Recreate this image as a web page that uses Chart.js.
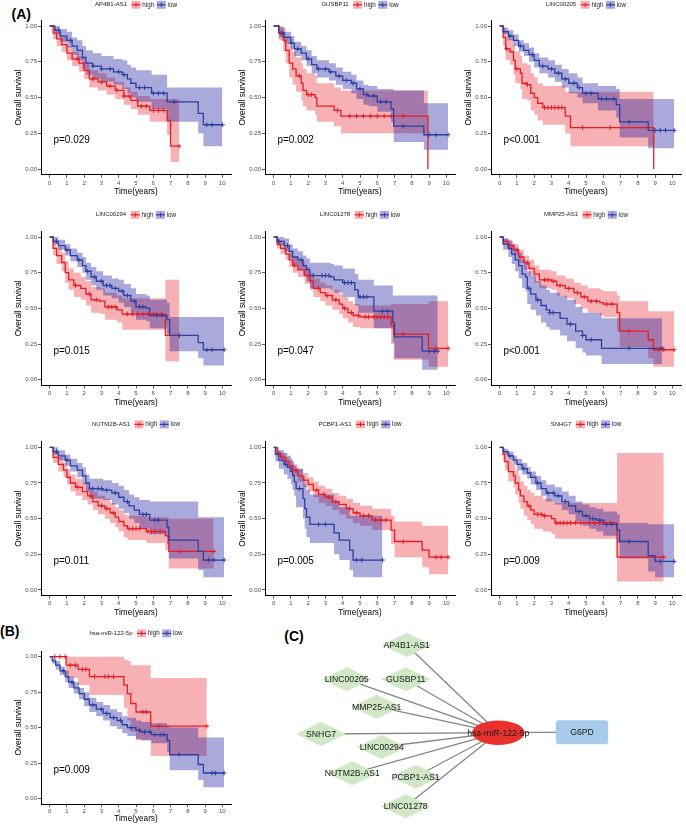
<!DOCTYPE html>
<html><head><meta charset="utf-8">
<script src="https://cdn.jsdelivr.net/npm/chart.js@4.4.1/dist/chart.umd.min.js"></script>
<style>
html,body{margin:0;padding:0;background:#fff;}
body{width:686px;height:825px;overflow:hidden;position:relative;font-family:"Liberation Sans",Arial,sans-serif;}
canvas{position:absolute;}
.lab{position:absolute;font:bold 14px/16px "Liberation Sans",Arial,sans-serif;color:#000;}
</style></head><body>
<div class="lab" style="left:11.5px;top:6.3px">(A)</div>
<div class="lab" style="left:0px;top:622.8px">(B)</div>
<div class="lab" style="left:284.3px;top:628.3px">(C)</div>
<script>
// ---------- labels ----------
const genes = ['AP4B1-AS1','GUSBP11','LINC00205','LINC00294','LINC01278','MMP25-AS1','NUTM2B-AS1','PCBP1-AS1','SNHG7','hsa-miR-122-5p'];
const pValues = ['p=0.029','p=0.002','p<0.001','p=0.015','p=0.047','p<0.001','p=0.011','p=0.005','p=0.009','p=0.009'];
const groupLabels = ['high','low'];
const xTickValues = [0,1,2,3,4,5,6,7,8,9,10];
const xTickLabels = ['0','1','2','3','4','5','6','7','8','9','10'];
const yTickValues = [0,0.25,0.5,0.75,1];
const yTickLabels = ['0.00','0.25','0.50','0.75','1.00'];
const xTitle = 'Time(years)';
const yTitle = 'Overall survival';

// ---------- KM curves: [time, survival, lower CI, upper CI] ----------
const kmAP4B1High = [[0,1,1,1],[0.2,0.95,0.91,0.99],[0.4,0.91,0.86,0.96],[0.7,0.87,0.82,0.92],[1.0,0.81,0.76,0.86],[1.3,0.77,0.72,0.82],[1.7,0.74,0.68,0.79],[2.0,0.69,0.63,0.75],[2.3,0.63,0.57,0.69],[2.8,0.61,0.55,0.67],[3.3,0.58,0.52,0.64],[3.8,0.55,0.49,0.61],[4.3,0.51,0.45,0.57],[4.7,0.48,0.42,0.54],[5.1,0.44,0.38,0.51],[5.8,0.41,0.33,0.49],[6.8,0.34,0.24,0.49],[7.0,0.16,0.05,0.49],[7.5,0.16,0.05,0.49]];
const kmAP4B1Low = [[0,1,1,1],[0.3,0.97,0.94,1.0],[0.6,0.93,0.89,0.98],[1.0,0.90,0.85,0.96],[1.3,0.86,0.80,0.92],[1.6,0.83,0.76,0.90],[1.9,0.78,0.70,0.86],[2.1,0.74,0.66,0.83],[2.5,0.72,0.63,0.81],[3.0,0.70,0.61,0.79],[3.7,0.68,0.59,0.77],[4.2,0.66,0.56,0.76],[4.5,0.63,0.53,0.73],[4.7,0.60,0.50,0.71],[5.0,0.57,0.47,0.69],[5.9,0.53,0.42,0.66],[6.8,0.47,0.33,0.57],[8.6,0.39,0.25,0.57],[8.9,0.31,0.16,0.57],[10.0,0.31,0.16,0.57]];
const censAP4B1High = [1.6,2.5,3.0,3.5,3.9,4.3,4.6,5.3,5.6,6.0,6.3,6.6,7.5];
const censAP4B1Low = [0.5,1.2,2.5,3.0,3.5,4.0,4.3,5.2,5.5,6.0,6.3,6.6,7.2,9.1,9.4,10.0];

const kmGUSBP11High = [[0,1,1,1],[0.3,0.95,0.90,1.0],[0.55,0.90,0.82,0.99],[0.7,0.83,0.74,0.93],[0.9,0.74,0.64,0.86],[1.1,0.70,0.59,0.82],[1.3,0.65,0.54,0.78],[1.6,0.60,0.48,0.74],[1.7,0.55,0.44,0.70],[1.9,0.52,0.41,0.67],[2.4,0.50,0.38,0.65],[2.5,0.44,0.33,0.60],[3.5,0.41,0.30,0.57],[3.9,0.37,0.25,0.55],[8.93,0,0.25,0.55]];
const kmGUSBP11Low = [[0,1,1,1],[0.3,0.95,0.92,0.99],[0.6,0.92,0.88,0.96],[1.0,0.88,0.84,0.93],[1.2,0.84,0.79,0.89],[1.6,0.81,0.76,0.86],[1.9,0.77,0.72,0.83],[2.2,0.73,0.67,0.79],[2.5,0.70,0.64,0.76],[3.2,0.68,0.62,0.74],[3.6,0.65,0.59,0.71],[4.0,0.62,0.56,0.68],[4.5,0.60,0.53,0.66],[4.8,0.56,0.49,0.62],[5.2,0.52,0.45,0.59],[5.5,0.51,0.44,0.58],[6.0,0.47,0.40,0.56],[6.8,0.42,0.33,0.56],[6.95,0.30,0.19,0.55],[8.7,0.24,0.135,0.46],[10.1,0.24,0.135,0.46]];
const censGUSBP11High = [0.4,1.5,2.0,2.2,3.7,4.4,4.8,5.2,5.6,6.0,6.4,6.8,7.5];
const censGUSBP11Low = [0.5,1.0,1.4,2.0,2.6,3.0,3.3,3.8,4.2,4.6,5.0,5.4,5.8,6.2,6.5,7.5,9.0,9.4,10.1];

const kmLINC00205High = [[0,1,1,1],[0.2,0.92,0.86,0.99],[0.35,0.84,0.76,0.93],[0.6,0.82,0.73,0.91],[0.8,0.76,0.66,0.87],[0.9,0.70,0.60,0.82],[1.2,0.67,0.56,0.79],[1.3,0.60,0.49,0.74],[1.6,0.59,0.48,0.73],[1.8,0.53,0.41,0.67],[2.0,0.50,0.38,0.64],[2.2,0.46,0.34,0.60],[2.5,0.43,0.31,0.58],[3.8,0.37,0.25,0.54],[4.1,0.29,0.16,0.54],[8.92,0,0.16,0.54]];
const kmLINC00205Low = [[0,1,1,1],[0.2,0.96,0.94,0.99],[0.5,0.93,0.90,0.97],[0.8,0.90,0.86,0.94],[1.1,0.86,0.82,0.90],[1.4,0.83,0.79,0.88],[1.7,0.80,0.75,0.85],[2.0,0.76,0.71,0.81],[2.3,0.72,0.67,0.78],[2.8,0.70,0.64,0.76],[3.2,0.67,0.61,0.73],[3.6,0.63,0.57,0.70],[4.0,0.60,0.53,0.67],[4.5,0.57,0.50,0.64],[4.8,0.53,0.46,0.60],[5.7,0.49,0.41,0.58],[6.75,0.45,0.36,0.56],[6.95,0.33,0.22,0.49],[8.6,0.27,0.145,0.49],[10.1,0.27,0.145,0.49]];
const censLINC00205High = [0.4,1.0,1.6,2.6,2.8,3.0,3.2,3.4,3.6,4.8,6.4];
const censLINC00205Low = [0.6,1.2,1.9,2.5,3.0,3.4,3.8,4.3,4.6,5.0,5.3,5.9,6.2,6.6,7.5,9.0,9.3,9.6,10.1];

const kmLINC00294High = [[0,1,1,1],[0.2,0.92,0.87,0.97],[0.4,0.87,0.81,0.93],[0.7,0.82,0.76,0.89],[0.9,0.75,0.68,0.83],[1.1,0.70,0.63,0.78],[1.4,0.66,0.58,0.75],[1.8,0.64,0.56,0.72],[2.1,0.60,0.52,0.69],[2.4,0.56,0.47,0.65],[2.9,0.55,0.46,0.64],[3.2,0.51,0.42,0.61],[3.9,0.49,0.40,0.59],[4.2,0.46,0.35,0.57],[6.7,0.31,0.13,0.70],[7.5,0.31,0.13,0.70]];
const kmLINC00294Low = [[0,1,1,1],[0.2,0.97,0.95,1.0],[0.5,0.94,0.91,0.98],[0.9,0.91,0.87,0.95],[1.2,0.87,0.83,0.92],[1.6,0.84,0.79,0.89],[1.9,0.80,0.75,0.86],[2.1,0.76,0.70,0.82],[2.4,0.72,0.66,0.79],[2.7,0.69,0.63,0.76],[3.1,0.66,0.59,0.73],[3.6,0.64,0.57,0.71],[4.0,0.62,0.54,0.70],[4.3,0.59,0.51,0.67],[4.7,0.55,0.47,0.64],[5.0,0.51,0.42,0.60],[5.6,0.50,0.41,0.59],[5.8,0.45,0.36,0.56],[6.8,0.42,0.32,0.54],[6.95,0.31,0.20,0.44],[8.6,0.26,0.15,0.44],[8.9,0.21,0.10,0.44],[10.1,0.21,0.10,0.44]];
const censLINC00294High = [1.5,2.3,2.7,3.4,3.6,3.8,4.5,4.8,5.1,5.4,5.7,6.0,6.2,6.5,7.5];
const censLINC00294Low = [0.4,1.0,1.7,2.2,2.6,3.0,3.3,3.5,3.8,4.2,4.5,4.9,5.2,5.4,6.2,6.5,7.5,9.1,9.4,10.1];

const kmLINC01278High = [[0,1,1,1],[0.2,0.95,0.92,0.98],[0.4,0.92,0.88,0.96],[0.7,0.88,0.84,0.92],[0.9,0.84,0.79,0.89],[1.1,0.80,0.75,0.86],[1.4,0.77,0.72,0.83],[1.8,0.73,0.67,0.79],[2.1,0.69,0.63,0.75],[2.3,0.64,0.58,0.71],[2.7,0.61,0.55,0.68],[3.0,0.59,0.52,0.66],[3.4,0.56,0.49,0.63],[3.8,0.53,0.46,0.60],[4.0,0.50,0.43,0.58],[4.3,0.47,0.40,0.55],[4.6,0.45,0.37,0.53],[5.0,0.44,0.36,0.52],[6.8,0.38,0.25,0.53],[6.95,0.32,0.14,0.53],[8.97,0.22,0.09,0.55],[10.1,0.22,0.09,0.55]];
const kmLINC01278Low = [[0,1,1,1],[0.2,0.97,0.94,1.0],[0.6,0.94,0.90,0.99],[0.9,0.90,0.85,0.95],[1.1,0.86,0.80,0.92],[1.4,0.84,0.77,0.90],[1.7,0.80,0.73,0.87],[1.9,0.77,0.69,0.85],[2.1,0.73,0.64,0.82],[3.3,0.72,0.63,0.81],[3.5,0.70,0.61,0.80],[4.0,0.68,0.58,0.78],[4.7,0.63,0.52,0.74],[4.9,0.58,0.47,0.70],[5.8,0.48,0.36,0.66],[6.9,0.40,0.26,0.59],[7.0,0.30,0.15,0.59],[8.6,0.20,0.07,0.59],[9.5,0.20,0.07,0.59]];
const censLINC01278High = [1.2,2.0,2.6,3.1,3.6,4.1,4.5,4.9,5.3,5.5,5.8,6.0,6.2,6.4,6.6,7.5,9.4,10.1];
const censLINC01278Low = [0.3,0.8,1.6,2.3,2.8,3.0,3.2,4.1,4.3,4.5,5.0,5.2,5.4,6.3,6.6,9.0,9.3,9.5];

const kmMMP25High = [[0,1,1,1],[0.2,0.97,0.95,0.99],[0.5,0.94,0.91,0.97],[0.8,0.91,0.87,0.95],[1.1,0.86,0.82,0.91],[1.4,0.82,0.77,0.87],[1.7,0.78,0.73,0.84],[2.0,0.74,0.68,0.80],[2.3,0.70,0.64,0.77],[3.0,0.69,0.63,0.76],[3.3,0.66,0.59,0.73],[3.8,0.64,0.57,0.71],[4.3,0.61,0.53,0.68],[4.7,0.58,0.50,0.66],[5.1,0.55,0.47,0.64],[5.8,0.54,0.45,0.63],[6.0,0.53,0.44,0.62],[6.8,0.47,0.34,0.59],[6.95,0.34,0.23,0.55],[8.6,0.28,0.15,0.48],[8.9,0.21,0.09,0.48],[10.1,0.21,0.09,0.48]];
const kmMMP25Low = [[0,1,1,1],[0.2,0.95,0.91,0.99],[0.5,0.92,0.86,0.98],[0.7,0.88,0.81,0.95],[0.9,0.84,0.76,0.92],[1.1,0.80,0.71,0.89],[1.3,0.74,0.64,0.84],[1.5,0.72,0.62,0.83],[1.6,0.64,0.53,0.76],[1.8,0.60,0.49,0.73],[2.1,0.56,0.45,0.69],[2.4,0.52,0.40,0.66],[2.7,0.49,0.37,0.63],[2.9,0.47,0.35,0.61],[3.5,0.43,0.31,0.59],[3.9,0.39,0.27,0.56],[4.4,0.34,0.22,0.51],[4.8,0.31,0.19,0.47],[5.0,0.28,0.17,0.47],[5.9,0.22,0.11,0.43],[9.4,0.22,0.11,0.43]];
const censMMP25High = [0.6,1.0,1.6,2.6,2.8,3.1,3.5,4.0,4.5,4.9,5.3,5.6,6.2,6.5,7.5,9.2,9.5,10.1];
const censMMP25Low = [1.7,2.2,2.9,3.1,4.1,4.8,5.3,7.5,9.4];

const kmNUTM2BHigh = [[0,1,1,1],[0.2,0.93,0.89,0.97],[0.5,0.88,0.83,0.93],[0.8,0.84,0.79,0.89],[1.0,0.79,0.74,0.85],[1.2,0.75,0.69,0.81],[1.5,0.72,0.66,0.78],[1.9,0.69,0.63,0.75],[2.2,0.66,0.60,0.72],[2.5,0.62,0.56,0.69],[2.8,0.59,0.53,0.66],[3.2,0.57,0.50,0.64],[3.5,0.54,0.47,0.61],[3.8,0.51,0.44,0.58],[4.0,0.48,0.41,0.56],[4.3,0.45,0.37,0.53],[4.5,0.43,0.35,0.52],[5.6,0.41,0.33,0.51],[6.7,0.38,0.28,0.51],[6.9,0.27,0.15,0.50],[9.5,0.27,0.15,0.50]];
const kmNUTM2BLow = [[0,1,1,1],[0.2,0.97,0.95,1.0],[0.5,0.94,0.91,0.98],[0.9,0.91,0.87,0.95],[1.2,0.87,0.83,0.92],[1.6,0.84,0.79,0.89],[1.9,0.80,0.74,0.86],[2.1,0.75,0.69,0.81],[2.3,0.71,0.64,0.78],[3.1,0.70,0.63,0.77],[3.6,0.68,0.60,0.75],[4.0,0.65,0.57,0.73],[4.3,0.62,0.54,0.70],[4.6,0.59,0.50,0.67],[4.9,0.56,0.47,0.65],[5.2,0.53,0.43,0.63],[5.8,0.49,0.39,0.62],[6.8,0.44,0.32,0.62],[6.9,0.35,0.22,0.62],[8.6,0.27,0.14,0.51],[8.9,0.21,0.09,0.51],[10.1,0.21,0.09,0.51]];
const censNUTM2BHigh = [1.6,2.4,3.0,3.3,3.7,4.6,4.8,5.0,5.2,5.7,5.9,6.1,6.4,7.5,9.5];
const censNUTM2BLow = [0.4,1.0,2.5,2.8,3.0,3.3,3.8,4.5,5.4,5.6,6.1,6.3,9.2,9.5,10.1];

const kmPCBP1High = [[0,1,1,1],[0.2,0.96,0.94,0.98],[0.4,0.93,0.90,0.96],[0.7,0.90,0.87,0.93],[0.9,0.87,0.83,0.91],[1.1,0.84,0.80,0.88],[1.4,0.80,0.76,0.85],[1.7,0.77,0.72,0.82],[2.0,0.74,0.69,0.79],[2.3,0.70,0.65,0.76],[2.6,0.67,0.61,0.73],[3.0,0.65,0.59,0.71],[3.4,0.62,0.56,0.68],[3.8,0.60,0.53,0.66],[4.2,0.57,0.50,0.64],[4.6,0.54,0.47,0.61],[5.0,0.52,0.45,0.59],[5.7,0.49,0.42,0.57],[6.8,0.42,0.32,0.52],[7.0,0.34,0.23,0.48],[8.6,0.28,0.16,0.45],[9.0,0.23,0.11,0.45],[10.1,0.23,0.11,0.45]];
const kmPCBP1Low = [[0,1,1,1],[0.1,0.95,0.90,1.0],[0.3,0.91,0.85,0.98],[0.6,0.88,0.81,0.96],[0.8,0.86,0.78,0.94],[1.0,0.83,0.74,0.92],[1.1,0.80,0.70,0.90],[1.2,0.76,0.66,0.87],[1.3,0.71,0.58,0.85],[1.7,0.64,0.50,0.80],[1.8,0.57,0.43,0.74],[1.9,0.51,0.37,0.70],[2.1,0.46,0.33,0.67],[3.5,0.40,0.25,0.62],[3.8,0.35,0.21,0.58],[4.4,0.28,0.14,0.52],[4.6,0.21,0.09,0.52],[6.3,0.21,0.09,0.52]];
const censPCBP1High = [0.5,1.3,2.5,2.9,3.2,3.6,4.4,4.8,5.2,5.5,5.9,6.2,6.5,7.5,9.4,9.7,10.1];
const censPCBP1Low = [0.7,1.5,2.6,3.0,4.8,5.1,6.3];

const kmSNHG7High = [[0,1,1,1],[0.2,0.95,0.90,1.0],[0.3,0.90,0.84,0.97],[0.5,0.83,0.76,0.91],[0.8,0.80,0.72,0.88],[0.9,0.75,0.67,0.84],[1.1,0.70,0.61,0.80],[1.2,0.66,0.57,0.76],[1.4,0.62,0.52,0.73],[1.6,0.59,0.49,0.70],[1.8,0.56,0.46,0.68],[2.0,0.53,0.43,0.66],[2.5,0.52,0.41,0.64],[3.0,0.50,0.39,0.62],[3.2,0.47,0.36,0.61],[6.8,0.23,0.06,0.96],[9.5,0.23,0.06,0.96]];
const kmSNHG7Low = [[0,1,1,1],[0.2,0.97,0.95,0.99],[0.5,0.94,0.91,0.97],[0.8,0.91,0.88,0.94],[1.0,0.88,0.84,0.92],[1.3,0.85,0.81,0.89],[1.6,0.82,0.78,0.86],[1.8,0.79,0.74,0.83],[2.1,0.75,0.70,0.80],[2.4,0.71,0.66,0.77],[2.7,0.68,0.62,0.74],[3.2,0.66,0.60,0.72],[3.6,0.62,0.56,0.69],[4.0,0.59,0.53,0.66],[4.4,0.55,0.48,0.62],[4.8,0.52,0.45,0.60],[5.2,0.50,0.43,0.58],[5.6,0.49,0.41,0.57],[6.0,0.46,0.38,0.55],[6.8,0.42,0.33,0.53],[6.95,0.34,0.22,0.47],[8.6,0.24,0.13,0.46],[9.0,0.20,0.09,0.46],[10.1,0.20,0.09,0.46]];
const censSNHG7High = [1.7,2.2,2.4,2.6,3.3,3.5,3.7,3.9,4.1,4.4,4.7,5.2,5.5,5.8,6.1,6.4,9.5];
const censSNHG7Low = [0.6,1.4,2.2,2.8,3.1,3.4,3.8,4.6,5.0,5.4,5.8,6.2,6.5,7.5,9.3,10.1];

const kmMIR122High = [[0,1,1,1],[0.95,0.94,0.85,1.0],[1.65,0.91,0.80,1.0],[2.3,0.86,0.73,1.0],[4.3,0.80,0.64,0.98],[4.5,0.74,0.55,0.97],[4.7,0.67,0.47,0.94],[5.0,0.61,0.41,0.94],[5.85,0.51,0.30,0.85],[9.1,0.51,0.30,0.85]];
const kmMIR122Low = [[0,1,1,1],[0.15,0.97,0.95,0.99],[0.35,0.94,0.91,0.97],[0.6,0.90,0.87,0.93],[0.9,0.86,0.82,0.90],[1.1,0.82,0.78,0.86],[1.4,0.78,0.74,0.82],[1.7,0.74,0.70,0.78],[2.0,0.70,0.65,0.75],[2.3,0.66,0.61,0.71],[2.7,0.63,0.58,0.68],[3.1,0.60,0.55,0.66],[3.5,0.57,0.51,0.63],[3.9,0.55,0.49,0.61],[4.2,0.52,0.46,0.58],[4.5,0.50,0.44,0.57],[5.0,0.48,0.42,0.55],[5.3,0.47,0.41,0.54],[5.9,0.45,0.39,0.53],[6.8,0.41,0.33,0.51],[6.95,0.31,0.20,0.50],[8.6,0.24,0.13,0.43],[8.9,0.18,0.08,0.43],[10.1,0.18,0.08,0.43]];
const censMIR122High = [0.3,0.6,0.9,1.2,1.5,1.9,2.1,2.6,3.2,3.4,3.7,5.4,5.6,6.3,9.1];
const censMIR122Low = [0.8,1.3,2.5,3.0,3.3,3.7,4.1,4.7,5.2,5.5,5.8,6.1,6.4,6.6,7.5,9.4,9.6,10.1];

// ---------- network ----------
const nodeNames = ['AP4B1-AS1','LINC00205','GUSBP11','MMP25-AS1','SNHG7','LINC00294','NUTM2B-AS1','PCBP1-AS1','LINC01278','hsa-miR-122-5p','G6PD'];
const nodeTypes = ['lncRNA','lncRNA','lncRNA','lncRNA','lncRNA','lncRNA','lncRNA','lncRNA','lncRNA','miRNA','mRNA'];
const nodeX = [176.7,116.7,175.7,146.7,91,151.7,122.3,185.7,175.7,268.3,352];
const nodeY = [45,79.3,79.3,106.7,134,147,173.3,176.7,206.3,132.7,132.2];
const edgeFrom = ['AP4B1-AS1','LINC00205','GUSBP11','MMP25-AS1','SNHG7','LINC00294','NUTM2B-AS1','PCBP1-AS1','LINC01278','hsa-miR-122-5p'];
const edgeTo = ['hsa-miR-122-5p','hsa-miR-122-5p','hsa-miR-122-5p','hsa-miR-122-5p','hsa-miR-122-5p','hsa-miR-122-5p','hsa-miR-122-5p','hsa-miR-122-5p','hsa-miR-122-5p','G6PD'];

// ---------- build ----------
const curves = [
  [kmAP4B1High,kmAP4B1Low,censAP4B1High,censAP4B1Low],
  [kmGUSBP11High,kmGUSBP11Low,censGUSBP11High,censGUSBP11Low],
  [kmLINC00205High,kmLINC00205Low,censLINC00205High,censLINC00205Low],
  [kmLINC00294High,kmLINC00294Low,censLINC00294High,censLINC00294Low],
  [kmLINC01278High,kmLINC01278Low,censLINC01278High,censLINC01278Low],
  [kmMMP25High,kmMMP25Low,censMMP25High,censMMP25Low],
  [kmNUTM2BHigh,kmNUTM2BLow,censNUTM2BHigh,censNUTM2BLow],
  [kmPCBP1High,kmPCBP1Low,censPCBP1High,censPCBP1Low],
  [kmSNHG7High,kmSNHG7Low,censSNHG7High,censSNHG7Low],
  [kmMIR122High,kmMIR122Low,censMIR122High,censMIR122Low]
];

Chart.defaults.font.family = '"Liberation Sans", Arial, sans-serif';
const FONT = '"Liberation Sans", Arial, sans-serif';
const RED = '#E41E26', BLUE = '#2E3F9C';
const RED_BAND = 'rgba(232,30,38,0.35)', BLUE_BAND = 'rgba(30,30,160,0.38)';

function stepAt(km, t) {
  let v = km[0][1];
  for (const r of km) { if (r[0] <= t) v = r[1]; }
  return v;
}
function bandSets(km, color, order) {
  return [
    {data: km.map(r => ({x:r[0], y:r[3]})), stepped:true, borderWidth:0, borderColor:'rgba(0,0,0,0)', pointRadius:0, fill:false, order},
    {data: km.map(r => ({x:r[0], y:r[2]})), stepped:true, borderWidth:0, borderColor:'rgba(0,0,0,0)', pointRadius:0, fill:'-1', backgroundColor:color, order}
  ];
}
function lineSet(km, color, order) {
  return {data: km.map(r => ({x:r[0], y:r[1]})), stepped:true, borderColor:color, borderWidth:1.3, pointRadius:0, fill:false, order};
}
function censSet(km, cens, color, order) {
  return {data: cens.map(t => ({x:t, y:stepAt(km, t)})), showLine:false, pointStyle:'cross', pointRadius:2.4, pointBorderWidth:1, pointBorderColor:color, borderColor:color, pointBackgroundColor:color, fill:false, order};
}

const kmDecor = {
  id: 'kmDecor',
  afterDraw(chart, args, o) {
    const {ctx, chartArea, scales:{x, y}} = chart;
    ctx.save();
    ctx.fillStyle = '#000';
    ctx.font = '10px ' + FONT;
    ctx.textAlign = 'left'; ctx.textBaseline = 'middle';
    ctx.fillText(o.pText, x.getPixelForValue(o.px), y.getPixelForValue(o.py));
    // legend
    const cy = o.legendY;
    ctx.font = '6px ' + FONT;
    const wT = ctx.measureText(o.title).width;
    ctx.font = '6.3px ' + FONT;
    const wH = ctx.measureText(groupLabels[0]).width, wL = ctx.measureText(groupLabels[1]).width;
    const kw = 9, g1 = 4.5, g2 = 1.8, g3 = 2.5;
    const total = wT + g1 + kw + g2 + wH + g3 + kw + g2 + wL;
    let cx = (chartArea.left + chartArea.right) / 2 - total / 2;
    ctx.fillStyle = '#222';
    ctx.font = '6px ' + FONT;
    ctx.fillText(o.title, cx, cy); cx += wT + g1;
    const key = (band, line) => {
      ctx.fillStyle = band; ctx.fillRect(cx, cy - 4, kw, 8);
      ctx.strokeStyle = line; ctx.lineWidth = 1.2;
      ctx.beginPath(); ctx.moveTo(cx, cy); ctx.lineTo(cx + kw, cy); ctx.stroke();
      ctx.lineWidth = 1;
      ctx.beginPath(); ctx.moveTo(cx + kw/2, cy - 2.3); ctx.lineTo(cx + kw/2, cy + 2.3); ctx.stroke();
      cx += kw + g2;
    };
    key(RED_BAND, RED);
    ctx.fillStyle = '#222'; ctx.font = '6.3px ' + FONT;
    ctx.fillText(groupLabels[0], cx, cy); cx += wH + g3;
    key(BLUE_BAND, BLUE);
    ctx.fillStyle = '#222'; ctx.font = '6.3px ' + FONT;
    ctx.fillText(groupLabels[1], cx, cy);
    ctx.restore();
  }
};

const colLeft = [0, 224, 450];
const rowTop = [0, 209, 419, 628];
const areaTopAbs = [20.3, 231.3, 441.6, 651];
const areaHeights = [154.5, 154.1, 154.1, 153.2];
const xAxisHeights = [21.9, 21.9, 21.9, 19.6];
const xTickPad = [1.5, 1.5, 1.5, 0.6];
const legendAbs = [4.8, 214.8, 424.4, 633.4];
const CW = 236, CH = 205, PAD_L = 13.6, Y_W = 27.4;

curves.forEach((c, i) => {
  const row = Math.floor(i / 3), col = i % 3;
  const cv = document.createElement('canvas');
  cv.width = CW; cv.height = CH;
  cv.style.left = colLeft[col] + 'px'; cv.style.top = rowTop[row] + 'px';
  cv.style.width = CW + 'px'; cv.style.height = CH + 'px';
  document.body.appendChild(cv);
  const padTop = areaTopAbs[row] - rowTop[row];
  const xh = xAxisHeights[row];
  const padBottom = CH - padTop - areaHeights[row] - xh;
  const [hi, lo, cHi, cLo] = c;
  new Chart(cv, {
    type: 'line',
    data: {datasets: [
      ...bandSets(hi, RED_BAND, 20),
      ...bandSets(lo, BLUE_BAND, 19),
      lineSet(hi, RED, 6),
      lineSet(lo, BLUE, 5),
      censSet(hi, cHi, RED, 4),
      censSet(lo, cLo, BLUE, 3)
    ]},
    options: {
      responsive: false, animation: false, devicePixelRatio: 1,
      layout: {padding: {left: PAD_L, top: padTop, right: 0, bottom: padBottom}},
      plugins: {
        legend: {display: false}, tooltip: {enabled: false},
        kmDecor: {pText: pValues[i], px: 0.22, py: 0.2, title: genes[i], legendY: legendAbs[row] - rowTop[row]}
      },
      scales: {
        x: {
          type: 'linear', min: -0.5, max: 10.5,
          afterBuildTicks: s => { s.ticks = xTickValues.map(v => ({value: v})); },
          afterFit: s => { s.height = xh; },
          grid: {drawOnChartArea: false, drawTicks: true, tickLength: 3, color: '#333', lineWidth: 0.8},
          border: {display: true, color: '#000', width: 1},
          ticks: {font: {size: 6}, color: '#4d4d4d', padding: xTickPad[row], maxRotation: 0, autoSkip: false,
                  callback: (v, idx) => xTickLabels[idx]},
          title: {display: true, text: xTitle, font: {size: 8.2}, color: '#000', padding: 0}
        },
        y: {
          type: 'linear', min: -0.04, max: 1.04,
          afterBuildTicks: s => { s.ticks = yTickValues.map(v => ({value: v})); },
          afterFit: s => { s.width = Y_W; },
          grid: {drawOnChartArea: false, drawTicks: true, tickLength: 3, color: '#333', lineWidth: 0.8},
          border: {display: true, color: '#000', width: 1},
          ticks: {font: {size: 6}, color: '#4d4d4d', padding: 1, autoSkip: false,
                  callback: (v, idx) => yTickLabels[idx]},
          title: {display: true, text: yTitle, font: {size: 8.2}, color: '#000', padding: 0}
        }
      }
    },
    plugins: [kmDecor]
  });
});

// ---------- network chart ----------
const netDecor = {
  id: 'netDecor',
  afterDatasetsDraw(chart) {
    const {ctx, scales:{x, y}} = chart;
    ctx.save();
    nodeNames.forEach((name, i) => {
      const cx = x.getPixelForValue(nodeX[i]), cy = y.getPixelForValue(nodeY[i]);
      const t = nodeTypes[i];
      ctx.beginPath();
      if (t === 'lncRNA') {
        ctx.moveTo(cx - 25, cy); ctx.lineTo(cx, cy - 12); ctx.lineTo(cx + 25, cy); ctx.lineTo(cx, cy + 12); ctx.closePath();
        ctx.fillStyle = '#D0E8C6';
      } else if (t === 'miRNA') {
        ctx.ellipse(cx, cy, 26.2, 12.2, 0, 0, Math.PI * 2);
        ctx.fillStyle = '#E9322E';
      } else {
        ctx.roundRect(cx - 26.2, cy - 12, 52.4, 24, 3);
        ctx.fillStyle = '#A7CCEB';
      }
      ctx.fill();
      ctx.fillStyle = '#1a1a1a';
      ctx.font = '8.7px ' + FONT;
      ctx.textAlign = 'center'; ctx.textBaseline = 'middle';
      ctx.fillText(name, cx, cy + 0.5);
    });
    ctx.restore();
  }
};
const nc = document.createElement('canvas');
nc.width = 456; nc.height = 225;
nc.style.left = '230px'; nc.style.top = '600px'; nc.style.width = '456px'; nc.style.height = '225px';
document.body.appendChild(nc);
const idx = n => nodeNames.indexOf(n);
new Chart(nc, {
  type: 'line',
  data: {datasets: edgeFrom.map((f, k) => ({
    data: [{x: nodeX[idx(f)], y: nodeY[idx(f)]}, {x: nodeX[idx(edgeTo[k])], y: nodeY[idx(edgeTo[k])]}],
    borderColor: '#858585', borderWidth: 1.3, pointRadius: 0, fill: false
  }))},
  options: {
    responsive: false, animation: false, devicePixelRatio: 1,
    layout: {padding: 0},
    plugins: {legend: {display: false}, tooltip: {enabled: false}},
    scales: {
      x: {type: 'linear', min: 0, max: 456, display: false},
      y: {type: 'linear', min: 0, max: 225, reverse: true, display: false}
    }
  },
  plugins: [netDecor]
});
</script>
</body></html>
